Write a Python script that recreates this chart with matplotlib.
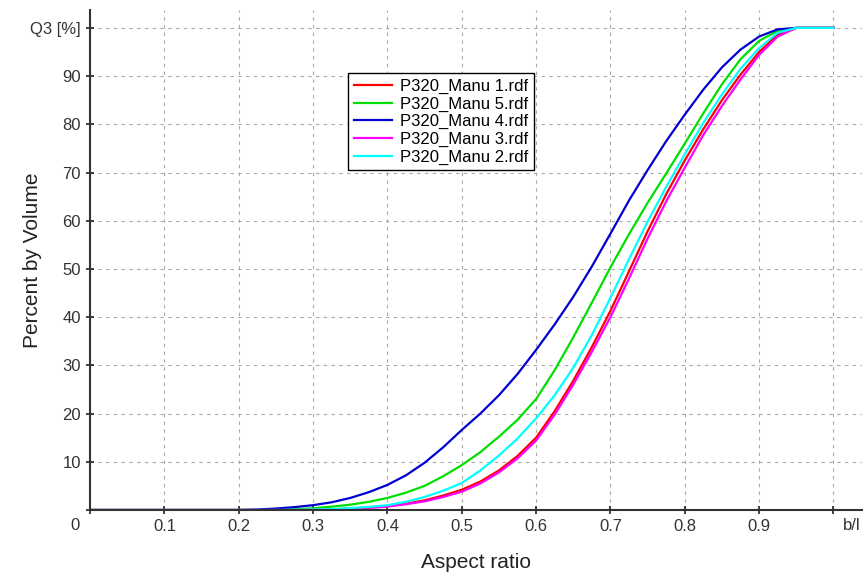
import matplotlib.pyplot as plt
import numpy as np

plt.rcParams['font.family'] = ['Liberation Sans', 'DejaVu Sans']

# aspect ratio (b/l) sample points
x = [0.0, 0.2, 0.225, 0.25, 0.275, 0.3, 0.325, 0.35, 0.375, 0.4, 0.425,
     0.45, 0.475, 0.5, 0.525, 0.55, 0.575, 0.6, 0.625, 0.65, 0.675, 0.7,
     0.725, 0.75, 0.775, 0.8, 0.825, 0.85, 0.875, 0.9, 0.925, 0.95, 1.0]

# cumulative percent by volume, Q3 [%]
manu1 = [0, 0, 0, 0, 0, 0.05, 0.15, 0.3, 0.5, 0.8, 1.3,
         2.0, 3.0, 4.2, 5.9, 8.2, 11.2, 15.0, 20.5, 26.8, 33.8, 41.3,
         49.5, 57.8, 65.5, 72.5, 79.0, 85.0, 90.3, 95.0, 98.6, 100, 100]
manu5 = [0, 0, 0, 0.05, 0.15, 0.35, 0.7, 1.1, 1.7, 2.5, 3.6,
         5.0, 7.0, 9.3, 12.0, 15.2, 18.7, 23.0, 29.0, 35.8, 43.0, 50.3,
         57.2, 63.7, 69.8, 76.0, 82.3, 88.3, 93.5, 97.3, 99.4, 100, 100]
manu4 = [0, 0, 0.1, 0.3, 0.6, 1.0, 1.6, 2.5, 3.7, 5.2, 7.2,
         9.8, 13.0, 16.6, 20.0, 23.8, 28.2, 33.2, 38.5, 44.2, 50.5, 57.3,
         64.2, 70.5, 76.5, 82.0, 87.2, 91.8, 95.5, 98.2, 99.7, 100, 100]
manu3 = [0, 0, 0, 0, 0, 0.03, 0.1, 0.25, 0.45, 0.7, 1.2,
         1.8, 2.7, 3.8, 5.5, 7.8, 10.7, 14.4, 19.8, 26.0, 32.8, 40.0,
         48.0, 56.3, 64.0, 71.0, 77.8, 83.8, 89.3, 94.4, 98.2, 100, 100]
manu2 = [0, 0, 0, 0, 0.03, 0.1, 0.2, 0.4, 0.65, 1.0, 1.7,
         2.7, 4.0, 5.6, 8.2, 11.3, 14.8, 19.0, 23.8, 29.5, 36.3, 44.0,
         52.0, 59.8, 67.0, 73.8, 80.3, 86.2, 91.5, 95.8, 99.0, 100, 100]

series = [("P320_Manu 1.rdf", manu1, "#ff0000"),
          ("P320_Manu 5.rdf", manu5, "#00e000"),
          ("P320_Manu 4.rdf", manu4, "#0000d0"),
          ("P320_Manu 3.rdf", manu3, "#ff00ff"),
          ("P320_Manu 2.rdf", manu2, "#00ffff")]

xticks = np.round(np.arange(0, 1.01, 0.1), 1)
xlabels = [''] + ['%.1f' % t for t in xticks[1:-1]] + ['']
yticks = list(range(0, 101, 10))
ylabels = [''] + [str(t) for t in yticks[1:-1]] + ['Q3 [%]']

fig = plt.figure(figsize=(8.66, 5.74), dpi=100)
ax = fig.add_axes([0.104, 0.1115, 0.891, 0.871])

for name, y, col in series:
    ax.plot(x, y, color=col, lw=1.6, label=name)

ax.set_xlim(0, 1.038)
ax.set_ylim(0, 103.7)
ax.set_xticks(xticks)
ax.set_xticklabels(xlabels)
ax.set_yticks(yticks)
ax.set_yticklabels(ylabels)
ax.tick_params(direction='inout', length=6, width=1.2, colors='#222222',
               labelsize=12, labelcolor='#333333')
ax.grid(True, color='#a8a8a8', lw=0.8, linestyle=(0, (3, 4)))
ax.set_axisbelow(True)

for s in ['top', 'right']:
    ax.spines[s].set_visible(False)
for s in ['left', 'bottom']:
    ax.spines[s].set_color('#333333')
    ax.spines[s].set_linewidth(1.5)

ax.annotate('0', xy=(0, 0), xycoords='data', xytext=(-11, -6),
            textcoords='offset points', ha='center', va='top',
            fontsize=12, color='#333333')
ax.annotate('b/l', xy=(1.0, 0), xycoords='data', xytext=(13, -6),
            textcoords='offset points', ha='center', va='top',
            fontsize=12, color='#333333')

ax.set_xlabel('Aspect ratio', fontsize=15, color='#222222', labelpad=14)
ax.set_ylabel('Percent by Volume', fontsize=15, color='#222222')
ax.yaxis.set_label_coords(-0.062, 0.5)

leg = ax.legend(loc='upper left', bbox_to_anchor=(0.334, 0.874), fontsize=12,
                fancybox=False, framealpha=1, edgecolor='black',
                borderpad=0.35, labelspacing=0.15, handlelength=2.3,
                handletextpad=0.5, borderaxespad=0)
leg.get_frame().set_linewidth(1.0)

fig.savefig('out.png', dpi=100)
